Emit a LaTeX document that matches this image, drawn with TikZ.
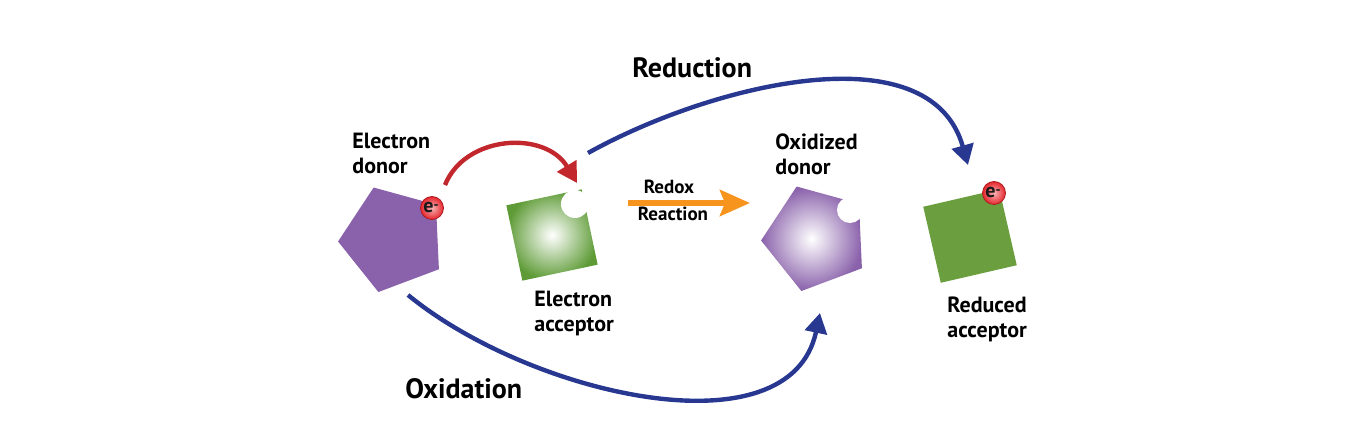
\documentclass[tikz,border=0pt]{standalone}
\usepackage{fontspec}
\setmainfont{PT Sans}
\usetikzlibrary{arrows.meta,positioning,shapes.geometric}

\definecolor{donorpurple}{HTML}{8A62AB}
\definecolor{accgreen}{HTML}{5E9B36}
\definecolor{redgreen}{HTML}{6A9E3F}
\definecolor{arrred}{HTML}{C1272D}
\definecolor{arrblue}{HTML}{283891}
\definecolor{arrorange}{HTML}{F7941D}
\definecolor{eballred}{HTML}{E5262C}

\begin{document}
\begin{tikzpicture}[
  x=0.5pt,y=-0.5pt,
  lbl/.style={font=\bfseries\fontsize{11}{12.5}\selectfont,align=left,anchor=north west,inner sep=0pt},
  biglbl/.style={font=\bfseries\fontsize{14}{16}\selectfont,anchor=base west,inner sep=0pt},
  smalllbl/.style={font=\bfseries\fontsize{9.5}{11}\selectfont,anchor=base,inner sep=0pt},
  pent/.style={regular polygon,regular polygon sides=5,minimum size=55pt,inner sep=0pt,rotate=20.6},
  sq/.style={rectangle,minimum size=38.5pt,inner sep=0pt},
  notch/.style={circle,fill=white,inner sep=0pt},
  eball/.style={circle,minimum size=11.5pt,inner sep=0pt,draw=eballred!75!black,line width=0.4pt,
    shading=radial,inner color=eballred!35!white,outer color=eballred,text=black!90,
    font=\bfseries\fontsize{10}{10}\selectfont},
  curvearr/.style={line width=2.2pt,-{Triangle[length=10pt,width=11pt]}},
  redoxarr/.style={line width=3pt,arrorange,-{Stealth[length=15pt,width=13pt,inset=2.5pt]}}
]
\useasboundingbox (0,0) rectangle (1372,448);

% molecules
\node[pent,fill=donorpurple] (donor) at (393,239) {};
\node[sq,rotate=12,shading=radial,inner color=white,outer color=accgreen] (acceptor) at (552,235) {};
\node[notch,minimum size=14pt] (accnotch) at (575,204) {};
\node[pent,shading=radial,inner color=white,outer color=donorpurple] (oxdonor) at (816,238) {};
\node[notch,minimum size=13pt] (oxnotch) at (850,210) {};
\node[sq,rotate=13,fill=redgreen,minimum size=39pt] (redacceptor) at (970,236) {};
\node[eball] (edonor) at (432,208) {\hspace{-1pt}e\raisebox{0.35ex}{\fontsize{7}{7}\selectfont -}};
\node[eball] (eredacc) at (994,193) {\hspace{-1pt}e\raisebox{0.35ex}{\fontsize{7}{7}\selectfont -}};

% labels
\node[lbl] (lbldonor) at (352,133) {Electron\\donor};
\node[lbl] (lblacc) at (534,291) {Electron\\acceptor};
\node[lbl] (lbloxdonor) at (775,133) {Oxidized\\donor};
\node[lbl] (lblredacc) at (947,296) {Reduced\\acceptor};
\node[biglbl] (lblreduction) at (632,78) {Reduction};
\node[biglbl] (lbloxidation) at (405,399) {Oxidation};

% redox step
\coordinate (redoxin) at (628,203);
\coordinate (redoxout) at (750,203);
\draw[redoxarr] (redoxin) -- (redoxout);
\node[smalllbl] (lblredox) at (669,194) {Redox};
\node[smalllbl] (lblreaction) at (673,221) {Reaction};

% electron transfer
\coordinate (redfrom) at (445,185);
\coordinate (redto) at (577,183);
\draw[curvearr,arrred] (redfrom) .. controls +(20,-50) and +(-32,-53) .. (redto);

\coordinate (reducfrom) at (588,153);
\coordinate (reducto) at (968,165);
\draw[curvearr,arrblue] (reducfrom) .. controls +(122,-68) and +(-38,-135) .. (reducto);

\coordinate (oxidfrom) at (408,295);
\coordinate (oxidto) at (820,313);
\draw[curvearr,arrblue] (oxidfrom) .. controls +(122,100) and +(-30,142) .. (oxidto);
\end{tikzpicture}
\end{document}
